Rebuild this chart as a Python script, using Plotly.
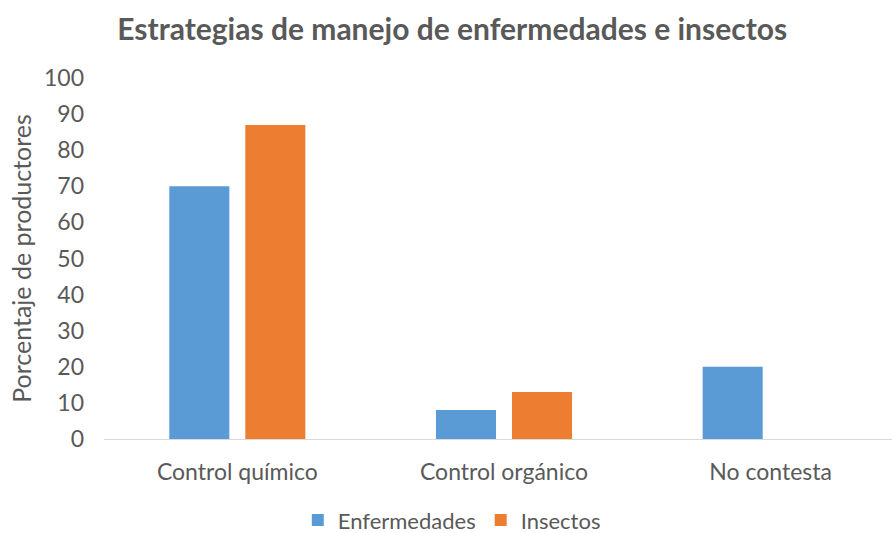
import plotly.graph_objects as go

categories = ["Control químico", "Control orgánico", "No contesta"]
enfermedades = [70, 8, 20]
insectos = [87, 13, 0]
y_ticks = [0, 10, 20, 30, 40, 50, 60, 70, 80, 90, 100]

FONT = "Lato"
GRAY = "#595959"

fig = go.Figure()
fig.add_trace(go.Bar(name="Enfermedades", x=categories, y=enfermedades,
                     marker=dict(color="#5B9BD5", line=dict(width=0))))
fig.add_trace(go.Bar(name="Insectos", x=categories, y=insectos,
                     marker=dict(color="#ED7D31", line=dict(width=0))))

fig.update_layout(
    width=892, height=533,
    paper_bgcolor="white", plot_bgcolor="white",
    margin=dict(l=104, r=0, t=78, b=94, autoexpand=False),
    barmode="group", bargap=0.43, bargroupgap=0.21,
    font=dict(family=FONT, color=GRAY, size=23),
    title=dict(text="<b>Estrategias de manejo de enfermedades e insectos</b>",
               x=0.507, xanchor="center", y=0.945, yanchor="middle",
               font=dict(family=FONT, size=30, color=GRAY)),
    legend=dict(orientation="h", xref="container", x=0.5065, xanchor="center",
                yref="container", y=0.024, yanchor="middle",
                font=dict(family=FONT, size=22, color=GRAY),
                itemwidth=30, traceorder="normal"),
    showlegend=True,
)
fig.update_xaxes(range=[-0.5, 2.455], showline=True, linecolor="#D9D9D9", linewidth=1,
                 ticks="", showgrid=False, automargin=False,
                 tickfont=dict(family=FONT, size=23, color=GRAY),
                 ticklabelstandoff=12)
fig.update_yaxes(range=[0, 100], tickvals=y_ticks, showgrid=False, zeroline=False,
                 showline=False, ticks="", automargin=False,
                 tickfont=dict(family=FONT, size=23, color=GRAY),
                 ticklabelstandoff=19,
                 title=dict(text="Porcentaje de productores", standoff=5,
                            font=dict(family=FONT, size=25, color=GRAY)))

fig.write_html("out.html", config={"displayModeBar": False},
               post_script="document.body.style.margin='0';")
